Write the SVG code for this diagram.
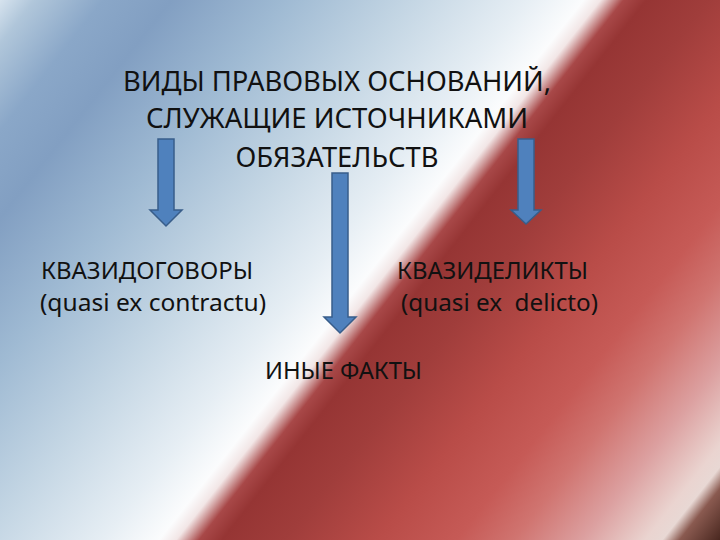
<svg xmlns="http://www.w3.org/2000/svg" width="720" height="540" viewBox="0 0 720 540">
  <defs>
    <linearGradient id="bg" gradientUnits="userSpaceOnUse" x1="0" y1="0" x2="707" y2="556">
      <stop offset="0" stop-color="#d6e3ee"/>
      <stop offset="0.03" stop-color="#b0c6da"/>
      <stop offset="0.09" stop-color="#8aa7c8"/>
      <stop offset="0.15" stop-color="#829fc2"/>
      <stop offset="0.25" stop-color="#9fbad3"/>
      <stop offset="0.36" stop-color="#c4d6e4"/>
      <stop offset="0.46" stop-color="#e6eef4"/>
      <stop offset="0.51" stop-color="#fbfcfd"/>
      <stop offset="0.525" stop-color="#f2e6e6"/>
      <stop offset="0.545" stop-color="#a84848"/>
      <stop offset="0.565" stop-color="#963534"/>
      <stop offset="0.62" stop-color="#a03d3b"/>
      <stop offset="0.7" stop-color="#b94c48"/>
      <stop offset="0.77" stop-color="#c65a56"/>
      <stop offset="0.82" stop-color="#d07470"/>
      <stop offset="0.88" stop-color="#dca0a0"/>
      <stop offset="0.935" stop-color="#ead4d0"/>
      <stop offset="0.95" stop-color="#e8d8d4"/>
      <stop offset="0.965" stop-color="#8a5a50"/>
      <stop offset="1" stop-color="#4a2820"/>
    </linearGradient>
  </defs>
  <style>
    .t { font-family: "Noto Sans", "Liberation Sans", sans-serif; fill: #111111; }
    .title { font-size: 27px; text-anchor: middle; }
    .body { font-size: 24px; white-space: pre; }
    .arrow { fill: #4f81bd; stroke: #385d8a; stroke-width: 1.5; stroke-linejoin: miter; }
  </style>
  <rect x="0" y="0" width="720" height="540" fill="url(#bg)"/>

  <g id="title">
    <text class="t title" x="337" y="91" textLength="428" lengthAdjust="spacingAndGlyphs">ВИДЫ ПРАВОВЫХ ОСНОВАНИЙ,</text>
    <text class="t title" x="337" y="128" textLength="382" lengthAdjust="spacingAndGlyphs">СЛУЖАЩИЕ ИСТОЧНИКАМИ</text>
    <text class="t title" x="337" y="167" textLength="203" lengthAdjust="spacingAndGlyphs">ОБЯЗАТЕЛЬСТВ</text>
  </g>

  <g id="quasi-contracts">
    <text class="t body" x="41" y="279" textLength="212" lengthAdjust="spacingAndGlyphs">КВАЗИДОГОВОРЫ</text>
    <text class="t body" x="40" y="311" textLength="226" lengthAdjust="spacingAndGlyphs">(quasi ex contractu)</text>
  </g>

  <g id="quasi-delicts">
    <text class="t body" x="397" y="279" textLength="191" lengthAdjust="spacingAndGlyphs">КВАЗИДЕЛИКТЫ</text>
    <text class="t body" x="401" y="311" textLength="197" lengthAdjust="spacingAndGlyphs" xml:space="preserve">(quasi ex  delicto)</text>
  </g>

  <g id="other-facts">
    <text class="t body" x="265" y="379" textLength="157" lengthAdjust="spacingAndGlyphs">ИНЫЕ ФАКТЫ</text>
  </g>

  <g id="connectors">
    <polygon class="arrow" points="158,139 174,139 174,210 182,210 166,226 150,210 158,210"/>
    <polygon class="arrow" points="332,173 348,173 348,317 356,317 340,333 324,317 332,317"/>
    <polygon class="arrow" points="518,139 534,139 534,210 541,210 526,224 511,210 518,210"/>
  </g>
</svg>
